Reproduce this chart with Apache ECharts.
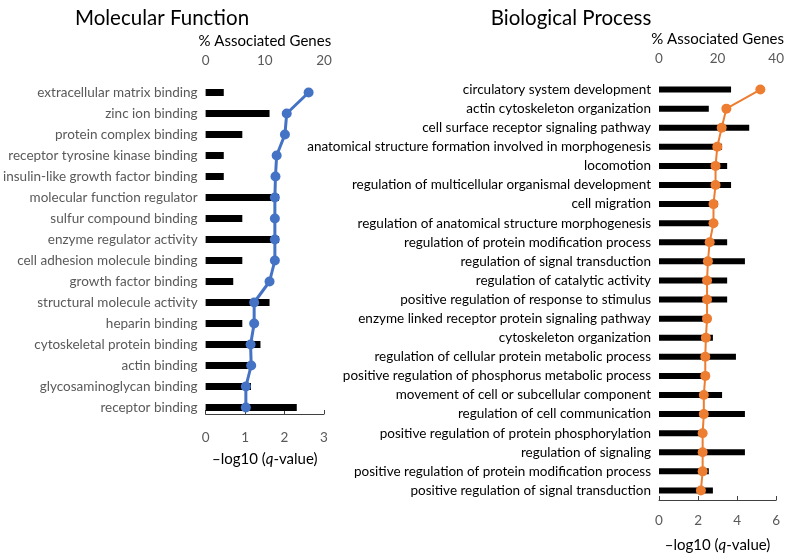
<!DOCTYPE html>
<html>
<head>
<meta charset="utf-8">
<script src="https://cdn.jsdelivr.net/npm/echarts@6/dist/echarts.min.js"></script>
<style>
  html, body { margin: 0; padding: 0; background: #fff; }
  #echart { width: 787px; height: 558px; }
</style>
</head>
<body>
<div id="echart"></div>
<script>
// Molecular Function
var mfTerms = ['extracellular matrix binding', 'zinc ion binding', 'protein complex binding',
    'receptor tyrosine kinase binding', 'insulin-like growth factor binding', 'molecular function regulator',
    'sulfur compound binding', 'enzyme regulator activity', 'cell adhesion molecule binding',
    'growth factor binding', 'structural molecule activity', 'heparin binding',
    'cytoskeletal protein binding', 'actin binding', 'glycosaminoglycan binding', 'receptor binding'];
var mfQ = [0.46, 1.62, 0.93, 0.46, 0.46, 1.86, 0.93, 1.86, 0.93, 0.70, 1.62, 0.93, 1.39, 1.15, 1.15, 2.31];
var mfPct = [17.4, 13.7, 13.4, 12.0, 11.8, 11.7, 11.7, 11.7, 11.7, 10.8, 8.2, 8.2, 7.6, 7.7, 6.8, 6.8];

// Biological Process
var bpTerms = ['circulatory system development', 'actin cytoskeleton organization',
    'cell surface receptor signaling pathway', 'anatomical structure formation involved in morphogenesis',
    'locomotion', 'regulation of multicellular organismal development', 'cell migration',
    'regulation of anatomical structure morphogenesis', 'regulation of protein modification process',
    'regulation of signal transduction', 'regulation of catalytic activity',
    'positive regulation of response to stimulus', 'enzyme linked receptor protein signaling pathway',
    'cytoskeleton organization', 'regulation of cellular protein metabolic process',
    'positive regulation of phosphorus metabolic process', 'movement of cell or subcellular component',
    'regulation of cell communication', 'positive regulation of protein phosphorylation',
    'regulation of signaling', 'positive regulation of protein modification process',
    'positive regulation of signal transduction'];
var bpQ = [3.69, 2.55, 4.62, 3.23, 3.49, 3.69, 3.01, 2.76, 3.49, 4.40, 3.49,
    3.49, 2.52, 2.76, 3.94, 2.55, 3.23, 4.40, 2.35, 4.40, 2.55, 2.76];
var bpPct = [34.6, 23.0, 21.4, 19.9, 19.3, 19.3, 18.6, 18.6, 17.3, 16.7, 16.4,
    16.4, 16.4, 16.0, 15.8, 15.8, 15.3, 15.3, 14.9, 14.9, 14.9, 14.3];

var FONT = 'Lato';
var GREY = '#595959';

function bottomAxis(grid, max, interval, offset, margin) {
    return {
        type: 'value', gridIndex: grid, position: 'bottom', min: 0, max: max, interval: interval,
        offset: offset,
        splitLine: {show: false},
        axisLine: {show: true, lineStyle: {color: '#404040', width: 1}},
        axisTick: {show: true, inside: true, length: 4, lineStyle: {color: '#404040'}},
        axisLabel: {color: GREY, fontFamily: FONT, fontSize: 13.5, margin: margin},
        name: '\u2013log10 ({q|q}-value)',
        nameLocation: 'middle', nameGap: 38,
        nameTextStyle: {color: '#000', fontFamily: FONT, fontSize: 15,
            rich: {q: {fontStyle: 'italic', fontFamily: FONT, fontSize: 15, color: '#000'}}}
    };
}

function topAxis(grid, max, interval) {
    return {
        type: 'value', gridIndex: grid, position: 'top', min: 0, max: max, interval: interval,
        splitLine: {show: false},
        axisLine: {show: false},
        axisTick: {show: false},
        axisLabel: {color: GREY, fontFamily: FONT, fontSize: 13.5, margin: 14},
        name: '% Associated Genes',
        nameLocation: 'middle', nameGap: 29,
        nameTextStyle: {color: '#000', fontFamily: FONT, fontSize: 15}
    };
}

function catAxis(grid, terms, color, size) {
    return {
        type: 'category', gridIndex: grid, data: terms, inverse: true,
        axisLine: {show: false},
        axisTick: {show: false},
        axisLabel: {color: color, fontFamily: FONT, fontSize: size, margin: 8, interval: 0}
    };
}

var myChart = echarts.init(document.getElementById('echart'), null, {renderer: 'canvas'});

var option = {
    animation: false,
    backgroundColor: '#fff',
    title: [
        {text: 'Molecular Function', left: 157, top: 3, textAlign: 'center',
            textStyle: {fontFamily: FONT, fontSize: 20.5, fontWeight: 'normal', color: '#000'}},
        {text: 'Biological Process', left: 566, top: 3, textAlign: 'center',
            textStyle: {fontFamily: FONT, fontSize: 20.5, fontWeight: 'normal', color: '#000'}}
    ],
    grid: [
        {left: 205, top: 82, width: 119, height: 336},
        {left: 659, top: 80, width: 118, height: 421}
    ],
    xAxis: [
        bottomAxis(0, 3, 1, -4, 17),
        topAxis(0, 20, 10),
        bottomAxis(1, 6, 2, 0, 14),
        topAxis(1, 40, 20)
    ],
    yAxis: [
        catAxis(0, mfTerms, GREY, 13.5),
        catAxis(1, bpTerms, '#000', 13.5)
    ],
    series: [
        {
            name: 'MF q', type: 'bar', xAxisIndex: 0, yAxisIndex: 0,
            data: mfQ, barWidth: 7, itemStyle: {color: '#000'}
        },
        {
            name: 'MF pct', type: 'line', xAxisIndex: 1, yAxisIndex: 0,
            data: mfPct, symbol: 'circle', symbolSize: 10,
            lineStyle: {color: '#4472C4', width: 3},
            itemStyle: {color: '#4472C4'}
        },
        {
            name: 'BP q', type: 'bar', xAxisIndex: 2, yAxisIndex: 1,
            data: bpQ, barWidth: 6, itemStyle: {color: '#000'}
        },
        {
            name: 'BP pct', type: 'line', xAxisIndex: 3, yAxisIndex: 1,
            data: bpPct, symbol: 'circle', symbolSize: 10,
            lineStyle: {color: '#ED7D31', width: 2},
            itemStyle: {color: '#ED7D31'}
        }
    ]
};

myChart.setOption(option);
window.onresize = myChart.resize;
</script>
</body>
</html>
